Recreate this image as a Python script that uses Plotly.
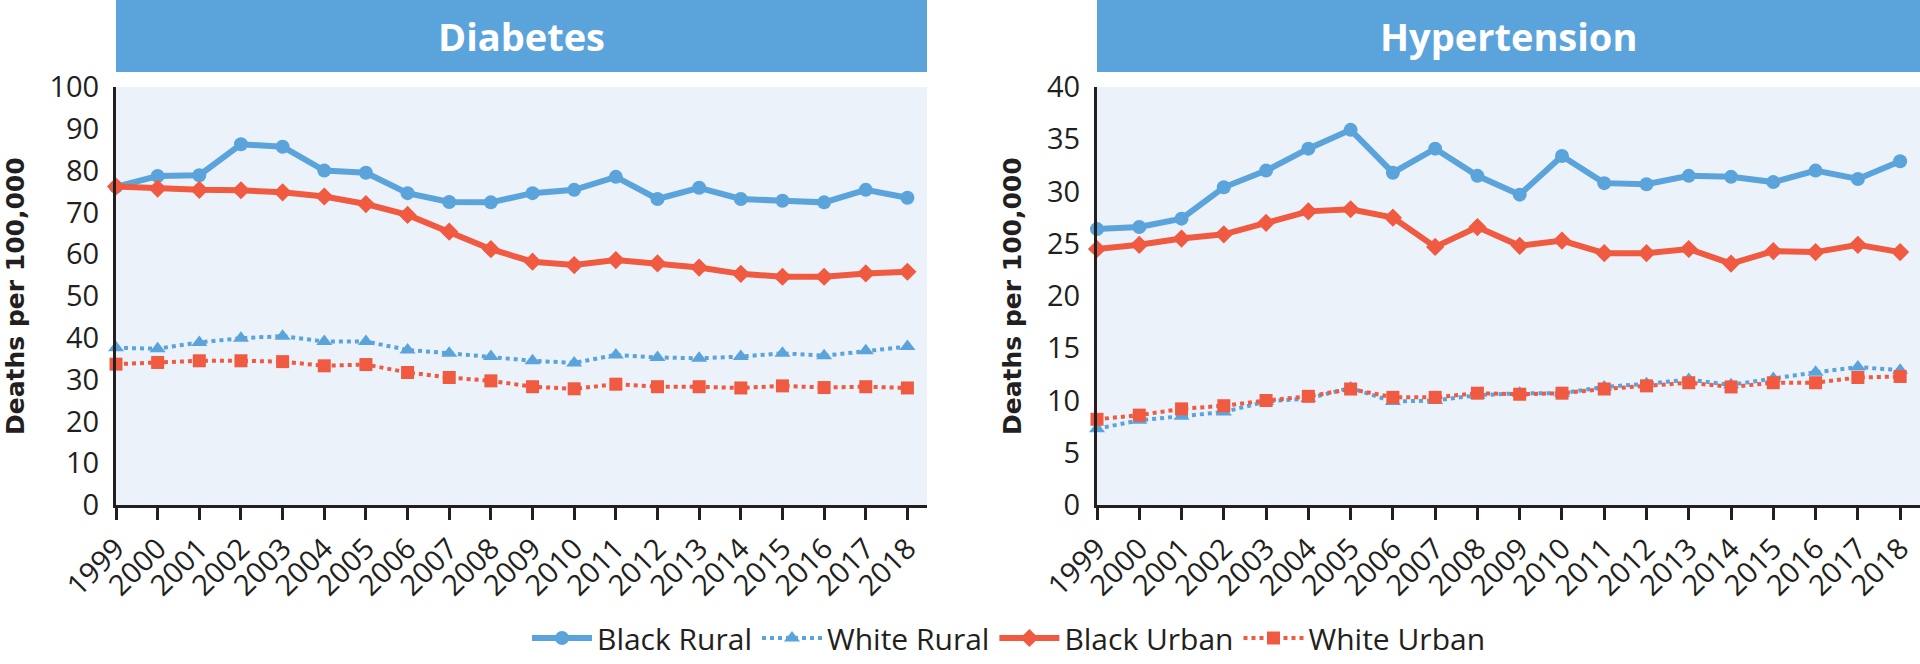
import plotly.graph_objects as go

W, H = 1920, 664

years = list(range(1999, 2019))

# Diabetes (deaths per 100,000)
diab_black_rural = [76.1, 78.7, 78.9, 86.3, 85.7, 80.0, 79.5, 74.6, 72.5, 72.4,
                    74.6, 75.4, 78.5, 73.2, 75.9, 73.2, 72.8, 72.4, 75.4, 73.5]
diab_white_rural = [37.6, 37.4, 38.9, 39.9, 40.4, 39.1, 39.1, 37.1, 36.3, 35.5,
                    34.5, 34.0, 35.9, 35.3, 35.1, 35.5, 36.3, 35.7, 36.9, 37.9]
diab_black_urban = [76.2, 75.7, 75.4, 75.3, 74.8, 73.8, 72.0, 69.4, 65.4, 61.2,
                    58.2, 57.4, 58.6, 57.8, 56.8, 55.3, 54.6, 54.6, 55.4, 55.8]
diab_white_urban = [33.7, 34.1, 34.5, 34.5, 34.3, 33.3, 33.6, 31.7, 30.5, 29.7,
                    28.3, 27.8, 28.9, 28.3, 28.3, 28.0, 28.5, 28.1, 28.3, 28.0]

# Hypertension (deaths per 100,000)
hyp_black_rural = [26.4, 26.6, 27.4, 30.4, 32.0, 34.1, 35.9, 31.8, 34.1, 31.5,
                   29.7, 33.4, 30.8, 30.7, 31.5, 31.4, 30.9, 32.0, 31.2, 32.9]
hyp_white_rural = [7.3, 8.1, 8.5, 8.9, 9.9, 10.2, 11.2, 9.9, 10.0, 10.5,
                   10.7, 10.7, 11.3, 11.6, 12.0, 11.5, 12.1, 12.7, 13.2, 12.9]
hyp_black_urban = [24.5, 24.9, 25.5, 25.9, 27.0, 28.1, 28.3, 27.5, 24.7, 26.6,
                   24.8, 25.3, 24.1, 24.1, 24.5, 23.1, 24.3, 24.2, 24.9, 24.2]
hyp_white_urban = [8.2, 8.6, 9.2, 9.5, 10.0, 10.4, 11.1, 10.3, 10.3, 10.7,
                   10.6, 10.7, 11.1, 11.4, 11.7, 11.3, 11.7, 11.7, 12.2, 12.3]

panel_titles = ["Diabetes", "Hypertension"]
y_title = "Deaths per 100,000"
series_names = ["Black Rural", "White Rural", "Black Urban", "White Urban"]
diab_ticks = list(range(0, 101, 10))
hyp_ticks = list(range(0, 41, 5))

BLUE = "#5BA4DB"
RED = "#EF5A40"
BG = "#EBF2FA"
INK = "#231F20"

styles = [
    dict(color=BLUE, dash="solid", width=6, symbol="circle", size=14),
    dict(color=BLUE, dash="dot", width=4, symbol="triangle-up", size=14),
    dict(color=RED, dash="solid", width=6, symbol="diamond", size=14),
    dict(color=RED, dash="dot", width=4, symbol="square", size=13),
]

fig = go.Figure()

panels = [
    ("x", "y", [diab_black_rural, diab_white_rural, diab_black_urban, diab_white_urban]),
    ("x2", "y2", [hyp_black_rural, hyp_white_rural, hyp_black_urban, hyp_white_urban]),
]
for pi, (xa, ya, data) in enumerate(panels):
    for name, vals, st in zip(series_names, data, styles):
        fig.add_trace(go.Scatter(
            x=years, y=vals, name=name, xaxis=xa, yaxis=ya,
            mode="lines+markers", cliponaxis=False,
            showlegend=(pi == 0),
            line=dict(color=st["color"], dash=st["dash"], width=st["width"]),
            marker=dict(symbol=st["symbol"], size=st["size"], color=st["color"]),
        ))

px = lambda v: v / W
py = lambda v: 1 - v / H

ydom = [py(505), py(87)]
xdom1 = [px(116), px(927)]
xdom2 = [px(1097), 1.0]

tickfont = dict(family="Open Sans, DejaVu Sans, sans-serif", size=29, color=INK)

def xaxis(dom, anchor):
    return dict(domain=dom, anchor=anchor, range=[1999, 2018.47],
                tickmode="array", tickvals=years, ticktext=[str(y) for y in years],
                tickangle=-45, ticks="outside", ticklen=12, tickwidth=3, tickcolor=INK,
                showline=True, linewidth=3, linecolor=INK, showgrid=False, zeroline=False,
                tickfont=tickfont, fixedrange=True, automargin=False)

def yaxis(anchor, rng, tv):
    return dict(domain=ydom, anchor=anchor, range=rng, tickmode="array", tickvals=tv,
                ticks="", showline=True, linewidth=3, linecolor=INK, showgrid=False,
                zeroline=False, tickfont=tickfont, ticklabelstandoff=8, fixedrange=True,
                automargin=False)

shapes = [
    dict(type="rect", xref="paper", yref="paper", x0=px(116), x1=px(927), y0=py(72), y1=1,
         fillcolor=BLUE, line=dict(width=0), layer="below"),
    dict(type="rect", xref="paper", yref="paper", x0=px(1097), x1=1.0, y0=py(72), y1=1,
         fillcolor=BLUE, line=dict(width=0), layer="below"),
]

title_font = dict(family="Open Sans, DejaVu Sans, sans-serif", size=38, color="white")
axis_title_font = dict(family="DejaVu Sans, Verdana, sans-serif", size=25, color=INK)
annotations = [
    dict(text="<b>%s</b>" % panel_titles[0], xref="paper", yref="paper",
         x=px(521), y=py(36), showarrow=False, font=title_font, xanchor="center", yanchor="middle"),
    dict(text="<b>%s</b>" % panel_titles[1], xref="paper", yref="paper",
         x=px(1508), y=py(36), showarrow=False, font=title_font, xanchor="center", yanchor="middle"),
    dict(text="<b>%s</b>" % y_title, xref="paper", yref="paper", textangle=-90,
         x=px(15), y=py(296), showarrow=False, font=axis_title_font, xanchor="center", yanchor="middle"),
    dict(text="<b>%s</b>" % y_title, xref="paper", yref="paper", textangle=-90,
         x=px(1012), y=py(296), showarrow=False, font=axis_title_font, xanchor="center", yanchor="middle"),
]

fig.update_layout(
    width=W, height=H, autosize=False,
    margin=dict(l=0, r=0, t=0, b=0, pad=0, autoexpand=False),
    paper_bgcolor="white", plot_bgcolor=BG,
    xaxis=xaxis(xdom1, "y"), yaxis=yaxis("x", [0, 100], diab_ticks),
    xaxis2=xaxis(xdom2, "y2"), yaxis2=yaxis("x2", [0, 40], hyp_ticks),
    shapes=shapes, annotations=annotations,
    legend=dict(orientation="h", x=px(1009), xanchor="center", y=py(638), yanchor="middle",
                font=dict(family="Open Sans, DejaVu Sans, sans-serif", size=30, color=INK),
                itemwidth=60, bgcolor="rgba(0,0,0,0)"),
    showlegend=True,
)

fig.write_html(
    "out.html",
    config={"displayModeBar": False},
    post_script="document.documentElement.style.margin='0';document.body.style.margin='0';"
                "document.body.style.padding='0';document.body.style.overflow='hidden';",
)
